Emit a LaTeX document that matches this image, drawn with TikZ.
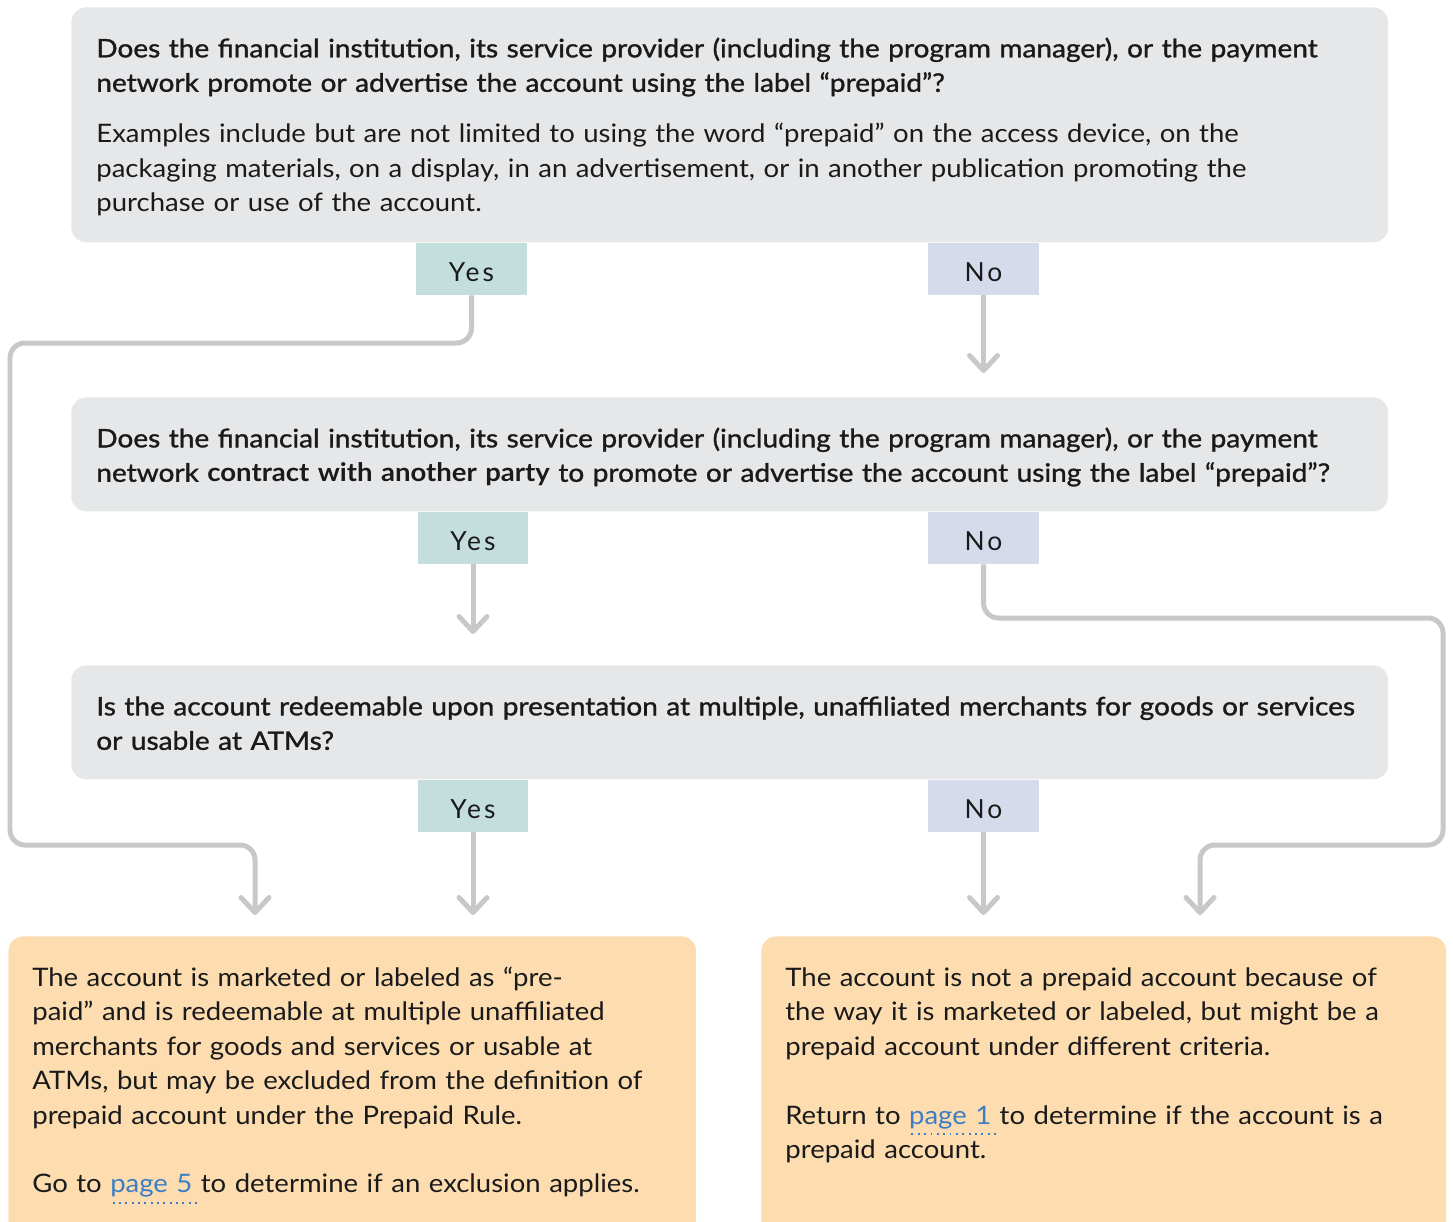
\documentclass[tikz,border=0pt]{standalone}
\usepackage{fontspec}
\setmainfont{Lato}[FakeStretch=1.08]
\newfontfamily\medfont{Lato}[FakeBold=1.2, FakeStretch=1.1]
\newfontfamily\tagfont{Lato}[LetterSpace=12]
\usetikzlibrary{arrows.meta}

\definecolor{boxgray}{HTML}{E6E7E9}
\definecolor{yesteal}{HTML}{C4DEDE}
\definecolor{noblue}{HTML}{D5DBEB}
\definecolor{ansorange}{HTML}{FDDDB0}
\definecolor{linegray}{HTML}{C7C8C7}
\definecolor{linkblue}{HTML}{3D7DC6}
\definecolor{inkblack}{HTML}{1A1A1A}

% blue link text with a dotted rule under it
\newcommand\pagelink[1]{\setbox0=\hbox{#1}\rlap{\color{linkblue}\raisebox{-6.2pt}{\hbox to \dimexpr\wd0+4pt\relax{\xleaders\hbox to 3.4pt{\hss\rule{1.1pt}{1.1pt}\hss}\hfill}}}\textcolor{linkblue}{#1}}

\tikzset{
  qbox/.style={fill=boxgray, rounded corners=0.3cm, anchor=north west,
    inner xsep=0.5cm, inner ysep=0.5cm, text width=25.34cm, text height=0.5cm,
    align=left, text=inkblack, font=\medfont\fontsize{14.5}{19.6}\selectfont},
  abox/.style={fill=ansorange, rounded corners=0.3cm, anchor=north west,
    inner xsep=0.48cm, inner ysep=0.5cm, text height=0.5cm, text depth=5cm,
    align=left, text=inkblack, font=\fontsize{14.5}{19.6}\selectfont},
  yestag/.style={fill=yesteal, minimum width=2.22cm, minimum height=1.04cm,
    inner sep=0pt, text height=0.5cm, text depth=0pt, text=inkblack,
    font=\tagfont\fontsize{15}{18}\selectfont},
  notag/.style={yestag, fill=noblue},
  link/.style={draw=linegray, line width=0.1cm, rounded corners=0.3cm,
    -{Straight Barb[length=0.3cm, width=0.56cm, round]}}
}

\begin{document}
\begin{tikzpicture}[x=0.02cm, y=-0.02cm]
  \useasboundingbox (0,0) rectangle (1453,1221);

  % questions
  \node[qbox, text depth=3.2cm] (q1) at (71,7)
    {Does the financial institution, its service provider (including the program manager), or the payment\\
     network promote or advertise the account using the label “prepaid”?\\[9.4pt]
     {\normalfont Examples include but are not limited to using the word “prepaid” on the access device, on the\\
     packaging materials, on a display, in an advertisement, or in another publication promoting the\\
     purchase or use of the account.}};
  \node[qbox, text depth=0.78cm] (q2) at (71,397)
    {Does the financial institution, its service provider (including the program manager), or the payment\\
     network {\normalfont\bfseries contract with another party} to promote or advertise the account using the label “prepaid”?};
  \node[qbox, text depth=0.78cm] (q3) at (71,665)
    {Is the account redeemable upon presentation at multiple, unaffiliated merchants for goods or services\\
     or usable at ATMs?};

  % answers
  \node[yestag] (yes1) at (471.5,269) {Yes};
  \node[notag] (no1) at (983.5,269) {No};
  \node[yestag] (yes2) at (473,538) {Yes};
  \node[notag] (no2) at (983.5,538) {No};
  \node[yestag] (yes3) at (473,806) {Yes};
  \node[notag] (no3) at (983.5,806) {No};

  % outcomes
  \node[abox, text width=12.8cm] (res1) at (8,936)
    {The account is marketed or labeled as “pre-\\
     paid” and is redeemable at multiple unaffiliated\\
     merchants for goods and services or usable at\\
     ATMs, but may be excluded from the definition of\\
     prepaid account under the Prepaid Rule.\\[19.6pt]
     Go to \pagelink{page 5} to determine if an exclusion applies.};
  \node[abox, text width=12.74cm] (res2) at (761,936)
    {The account is not a prepaid account because of\\
     the way it is marketed or labeled, but might be a\\
     prepaid account under different criteria.\\[19.6pt]
     Return to \pagelink{page 1} to determine if the account is a\\
     prepaid account.};

  % connectors
  \coordinate (endA) at (255,915);
  \coordinate (endD) at (1200,915);
  \draw[link] (yes1.south) |- (10,343) |- (255,845) -- (endA);
  \draw[link] (no1.south) -- ([yshift=0.48cm]no1.south |- q2.north);
  \draw[link] (yes2.south) -- ([yshift=0.62cm]yes2.south |- q3.north);
  \draw[link] (no2.south) |- (1443,618) |- (1200,845) -- (endD);
  \draw[link] (yes3.south) -- ([yshift=0.42cm]yes3.south |- res1.north);
  \draw[link] (no3.south) -- ([yshift=0.42cm]no3.south |- res2.north);
\end{tikzpicture}
\end{document}
